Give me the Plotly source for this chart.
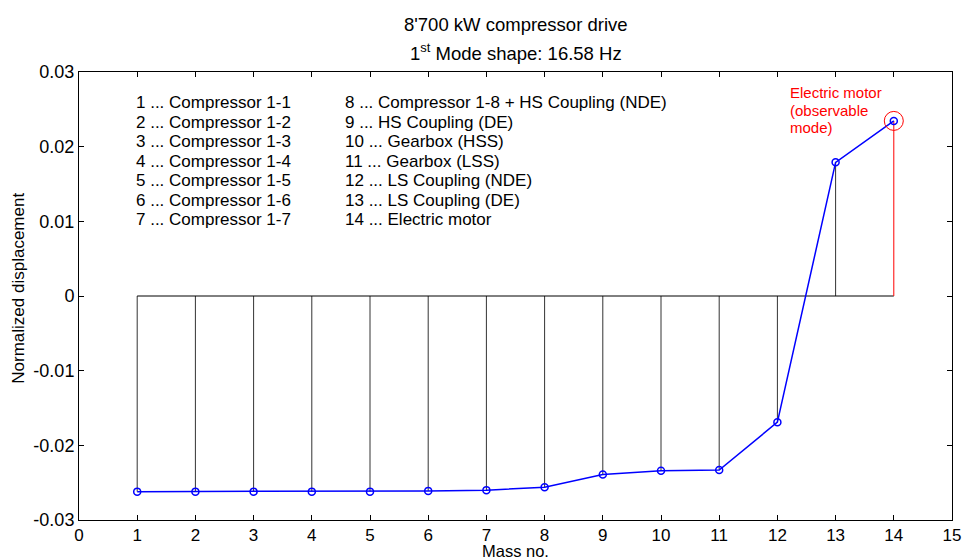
import plotly.graph_objects as go

mass_no = [1, 2, 3, 4, 5, 6, 7, 8, 9, 10, 11, 12, 13, 14]
displacement = [-0.0262, -0.0262, -0.0262, -0.0262, -0.0262, -0.0261, -0.0260,
                -0.0256, -0.0239, -0.0234, -0.0233, -0.0169, 0.0179, 0.02345]
labels_col1 = ["1 ... Compressor 1-1", "2 ... Compressor 1-2", "3 ... Compressor 1-3",
               "4 ... Compressor 1-4", "5 ... Compressor 1-5", "6 ... Compressor 1-6",
               "7 ... Compressor 1-7"]
labels_col2 = ["8 ... Compressor 1-8 + HS Coupling (NDE)", "9 ... HS Coupling (DE)",
               "10 ... Gearbox (HSS)", "11 ... Gearbox (LSS)", "12 ... LS Coupling (NDE)",
               "13 ... LS Coupling (DE)", "14 ... Electric motor"]
x_ticks = list(range(0, 16))
y_ticks = [-0.03, -0.02, -0.01, 0, 0.01, 0.02, 0.03]
y_ticktext = ["-0.03", "-0.02", "-0.01", "0", "0.01", "0.02", "0.03"]
highlight_idx = 13
highlight_lines = ["Electric motor", "(observable", "mode)"]
title_lines = ["8'700 kW compressor drive", "1<sup>st</sup> Mode shape: 16.58 Hz"]
x_title = "Mass no."
y_title = "Normalized displacement"

FONT = "Liberation Sans, Arial, sans-serif"

fig = go.Figure()

# stems (black)
sx, sy = [], []
for i, (x, y) in enumerate(zip(mass_no, displacement)):
    if i == highlight_idx:
        continue
    sx += [x, x, None]
    sy += [0, y, None]
fig.add_trace(go.Scatter(x=sx, y=sy, mode="lines",
                         line=dict(color="#333333", width=1), hoverinfo="skip"))
# baseline
fig.add_trace(go.Scatter(x=[mass_no[0], mass_no[-1]], y=[0, 0], mode="lines",
                         line=dict(color="black", width=1), hoverinfo="skip"))
# highlighted stem (red)
hx = mass_no[highlight_idx]
hy = displacement[highlight_idx]
fig.add_trace(go.Scatter(x=[hx, hx], y=[0, hy], mode="lines",
                         line=dict(color="red", width=1), hoverinfo="skip"))
# mode shape line
fig.add_trace(go.Scatter(x=mass_no, y=displacement, mode="lines+markers",
                         line=dict(color="blue", width=1.5),
                         marker=dict(symbol="circle-open", size=7, color="blue",
                                     line=dict(width=1.5, color="blue"))))
# red circle around highlighted point
fig.add_trace(go.Scatter(x=[hx], y=[hy], mode="markers",
                         marker=dict(symbol="circle-open", size=19, color="red",
                                     line=dict(width=1, color="red"))))

# red annotation (one line each)
for k, t in enumerate(highlight_lines):
    fig.add_annotation(x=12.18, y=0.02719 - k * 0.002344, xref="x", yref="y",
                       text=t, showarrow=False, align="left",
                       xanchor="left", yanchor="middle",
                       font=dict(family=FONT, size=15, color="red"))

# component list
line_step = 0.00261
for k, t in enumerate(labels_col1):
    fig.add_annotation(x=0.95, y=0.02585 - k * line_step, xref="x", yref="y", text=t,
                       showarrow=False, align="left", xanchor="left", yanchor="middle",
                       font=dict(family=FONT, size=17, color="black"))
for k, t in enumerate(labels_col2):
    fig.add_annotation(x=4.53, y=0.02585 - k * line_step, xref="x", yref="y", text=t,
                       showarrow=False, align="left", xanchor="left", yanchor="middle",
                       font=dict(family=FONT, size=17, color="black"))

# title (two lines)
for t, yp in zip(title_lines, [1.105, 1.0446]):
    fig.add_annotation(x=0.5, y=yp, xref="paper", yref="paper", text=t,
                       showarrow=False, xanchor="center", yanchor="middle",
                       font=dict(family=FONT, size=18.5, color="black"))

# axis titles
fig.add_annotation(x=0.5, y=-0.069, xref="paper", yref="paper", text=x_title,
                   showarrow=False, xanchor="center", yanchor="middle",
                   font=dict(family=FONT, size=16.5, color="black"))
fig.add_annotation(x=-0.069, y=0.518, xref="paper", yref="paper", text=y_title,
                   showarrow=False, xanchor="center", yanchor="middle", textangle=-90,
                   font=dict(family=FONT, size=17, color="black"))

fig.update_layout(
    width=963, height=560,
    margin=dict(l=79, r=11, t=72, b=40),
    paper_bgcolor="white", plot_bgcolor="white",
    showlegend=False,
    font=dict(family=FONT, size=18, color="black"),
)
fig.update_xaxes(range=[0, 15], tickvals=x_ticks, ticks="inside", ticklen=5,
                 tickcolor="black", showline=True, linecolor="black", linewidth=1,
                 mirror="allticks", showgrid=False, zeroline=False, automargin=False,
                 tickfont=dict(size=17))
fig.update_yaxes(range=[-0.03, 0.03], tickvals=y_ticks, ticktext=y_ticktext,
                 ticks="inside", ticklen=5, tickcolor="black", showline=True,
                 linecolor="black", linewidth=1, mirror="allticks", showgrid=False,
                 zeroline=False, automargin=False, tickfont=dict(size=18))

fig.write_html("out.html")
